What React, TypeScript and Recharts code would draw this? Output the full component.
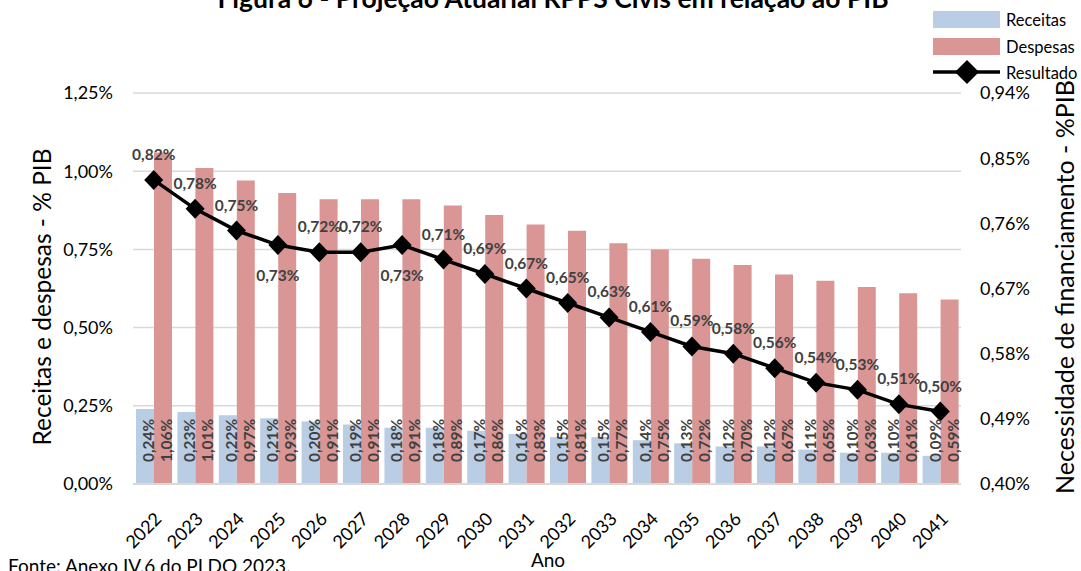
import {
  ComposedChart,
  Bar,
  Line,
  XAxis,
  YAxis,
  CartesianGrid,
  LabelList,
} from 'recharts';

const anos = [
  '2022', '2023', '2024', '2025', '2026', '2027', '2028', '2029', '2030', '2031',
  '2032', '2033', '2034', '2035', '2036', '2037', '2038', '2039', '2040', '2041',
];
const receitas = [
  0.24, 0.23, 0.22, 0.21, 0.2, 0.19, 0.18, 0.18, 0.17, 0.16,
  0.15, 0.15, 0.14, 0.13, 0.12, 0.12, 0.11, 0.1, 0.1, 0.09,
];
const despesas = [
  1.06, 1.01, 0.97, 0.93, 0.91, 0.91, 0.91, 0.89, 0.86, 0.83,
  0.81, 0.77, 0.75, 0.72, 0.7, 0.67, 0.65, 0.63, 0.61, 0.59,
];
const resultado = [
  0.82, 0.78, 0.75, 0.73, 0.72, 0.72, 0.73, 0.71, 0.69, 0.67,
  0.65, 0.63, 0.61, 0.59, 0.58, 0.56, 0.54, 0.53, 0.51, 0.5,
];
const ticksEsq = [0, 0.25, 0.5, 0.75, 1, 1.25];
const ticksDir = [0.4, 0.49, 0.58, 0.67, 0.76, 0.85, 0.94];

const data = anos.map((ano, i) => ({
  ano,
  receitas: receitas[i],
  despesas: despesas[i],
  resultado: resultado[i],
}));

const FONT = 'Lato, "DejaVu Sans", sans-serif';
const LABEL_COLOR = '#404040';
const AZUL = '#B9CDE5';
const ROSA = '#D99694';

// anos cujo rótulo da linha fica abaixo do ponto
const rotuloAbaixo = new Set(['2025', '2028']);

function pct(v: number): string {
  return `${v.toFixed(2).replace('.', ',')}%`;
}

function BarLabel(props: any) {
  const { x, y, width, height, value } = props;
  const bx = Number(x) + Number(width);
  const by = Number(y) + Number(height) - 22;
  return (
    <text
      x={bx}
      y={by}
      transform={`rotate(-90, ${bx}, ${by})`}
      textAnchor="start"
      fontFamily={FONT}
      fontWeight={700}
      fontSize={15.5}
      fill={LABEL_COLOR}
    >
      {pct(Number(value))}
    </text>
  );
}

function LineLabel(props: any) {
  const { x, y, value, index } = props;
  const below = rotuloAbaixo.has(anos[index]);
  return (
    <text
      x={x}
      y={below ? y + 36 : y - 20}
      textAnchor="middle"
      fontFamily={FONT}
      fontWeight={700}
      fontSize={15.5}
      fill={LABEL_COLOR}
    >
      {pct(Number(value))}
    </text>
  );
}

function Diamond(props: any) {
  const { cx, cy, index } = props;
  return (
    <path
      key={`d-${index}`}
      d={`M${cx},${cy - 10} L${cx + 9.5},${cy} L${cx},${cy + 10} L${cx - 9.5},${cy} Z`}
      fill="#000"
    />
  );
}

function AnoTick(props: any) {
  const { x, y, payload } = props;
  const ax = x + 9;
  const ay = y + 36;
  return (
    <text
      x={ax}
      y={ay}
      transform={`rotate(-45, ${ax}, ${ay})`}
      textAnchor="end"
      fontFamily={FONT}
      fontSize={18}
      fill="#000"
    >
      {payload.value}
    </text>
  );
}

export default function App() {
  return (
    <div
      style={{
        position: 'absolute',
        left: 0,
        top: 0,
        width: 1081,
        height: 571,
        overflow: 'hidden',
        background: '#fff',
        fontFamily: FONT,
      }}
    >
      <ComposedChart
        width={1081}
        height={571}
        data={data}
        margin={{ top: 93, right: 20, bottom: 0, left: 20 }}
        barCategoryGap={3}
        barGap={0}
      >
        <CartesianGrid vertical={false} stroke="#d9d9d9" strokeWidth={1.5} />
        <XAxis
          dataKey="ano"
          height={87}
          tickSize={0}
          tickMargin={0}
          interval={0}
          tick={<AnoTick />}
          axisLine={{ stroke: '#d9d9d9', strokeWidth: 2 }}
          tickLine={false}
        />
        <YAxis
          domain={[0, 1.25]}
          ticks={ticksEsq}
          width={113}
          tickFormatter={pct}
          axisLine={false}
          tickLine={false}
          tickMargin={14}
          tick={{ fontSize: 18, fill: '#000', fontFamily: FONT }}
        />
        <YAxis
          yAxisId="right"
          orientation="right"
          domain={[0.4, 0.94]}
          ticks={ticksDir}
          width={100}
          tickFormatter={pct}
          axisLine={false}
          tickLine={false}
          tickMargin={13}
          tick={{ fontSize: 18, fill: '#000', fontFamily: FONT }}
        />
        <Bar dataKey="receitas" fill={AZUL} isAnimationActive={false}>
          <LabelList dataKey="receitas" content={<BarLabel />} />
        </Bar>
        <Bar dataKey="despesas" fill={ROSA} isAnimationActive={false}>
          <LabelList dataKey="despesas" content={<BarLabel />} />
        </Bar>
        <Line
          yAxisId="right"
          dataKey="resultado"
          stroke="#000"
          strokeWidth={3.5}
          dot={<Diamond />}
          activeDot={false}
          isAnimationActive={false}
        >
          <LabelList dataKey="resultado" content={<LineLabel />} />
        </Line>
      </ComposedChart>

      <svg
        width={1081}
        height={571}
        style={{ position: 'absolute', left: 0, top: 0, pointerEvents: 'none' }}
        fontFamily={FONT}
      >
        <text x={553} y={8} textAnchor="middle" fontWeight={700} fontSize={26.5} fill="#000">
          Figura 6 - Projeção Atuarial RPPS Civis em relação ao PIB
        </text>
        <text
          x={41}
          y={297}
          transform="rotate(-90, 41, 297)"
          textAnchor="middle"
          dominantBaseline="central"
          fontSize={24.5}
          fill="#000"
        >
          Receitas e despesas - % PIB
        </text>
        <text
          x={1064}
          y={287}
          transform="rotate(-90, 1064, 287)"
          textAnchor="middle"
          dominantBaseline="central"
          fontSize={25}
          fill="#000"
        >
          Necessidade de financiamento - %PIB
        </text>
        <text x={548} y={567} textAnchor="middle" fontSize={19} fill="#000">
          Ano
        </text>
        <text x={8} y={573} fontSize={19} fill="#000">
          Fonte: Anexo IV.6 do PLDO 2023.
        </text>

        <rect x={933} y={11} width={67} height={17} fill={AZUL} />
        <text x={1006} y={20} dominantBaseline="central" fontSize={16.5} fill="#000">
          Receitas
        </text>
        <rect x={933} y={38} width={67} height={17} fill={ROSA} />
        <text x={1006} y={47} dominantBaseline="central" fontSize={16.5} fill="#000">
          Despesas
        </text>
        <line x1={933} y1={72} x2={1000} y2={72} stroke="#000" strokeWidth={3.5} />
        <path d="M967,60 L979,72 L967,84 L955,72 Z" fill="#000" />
        <text x={1006} y={73} dominantBaseline="central" fontSize={16.5} fill="#000">
          Resultado
        </text>
      </svg>
    </div>
  );
}
